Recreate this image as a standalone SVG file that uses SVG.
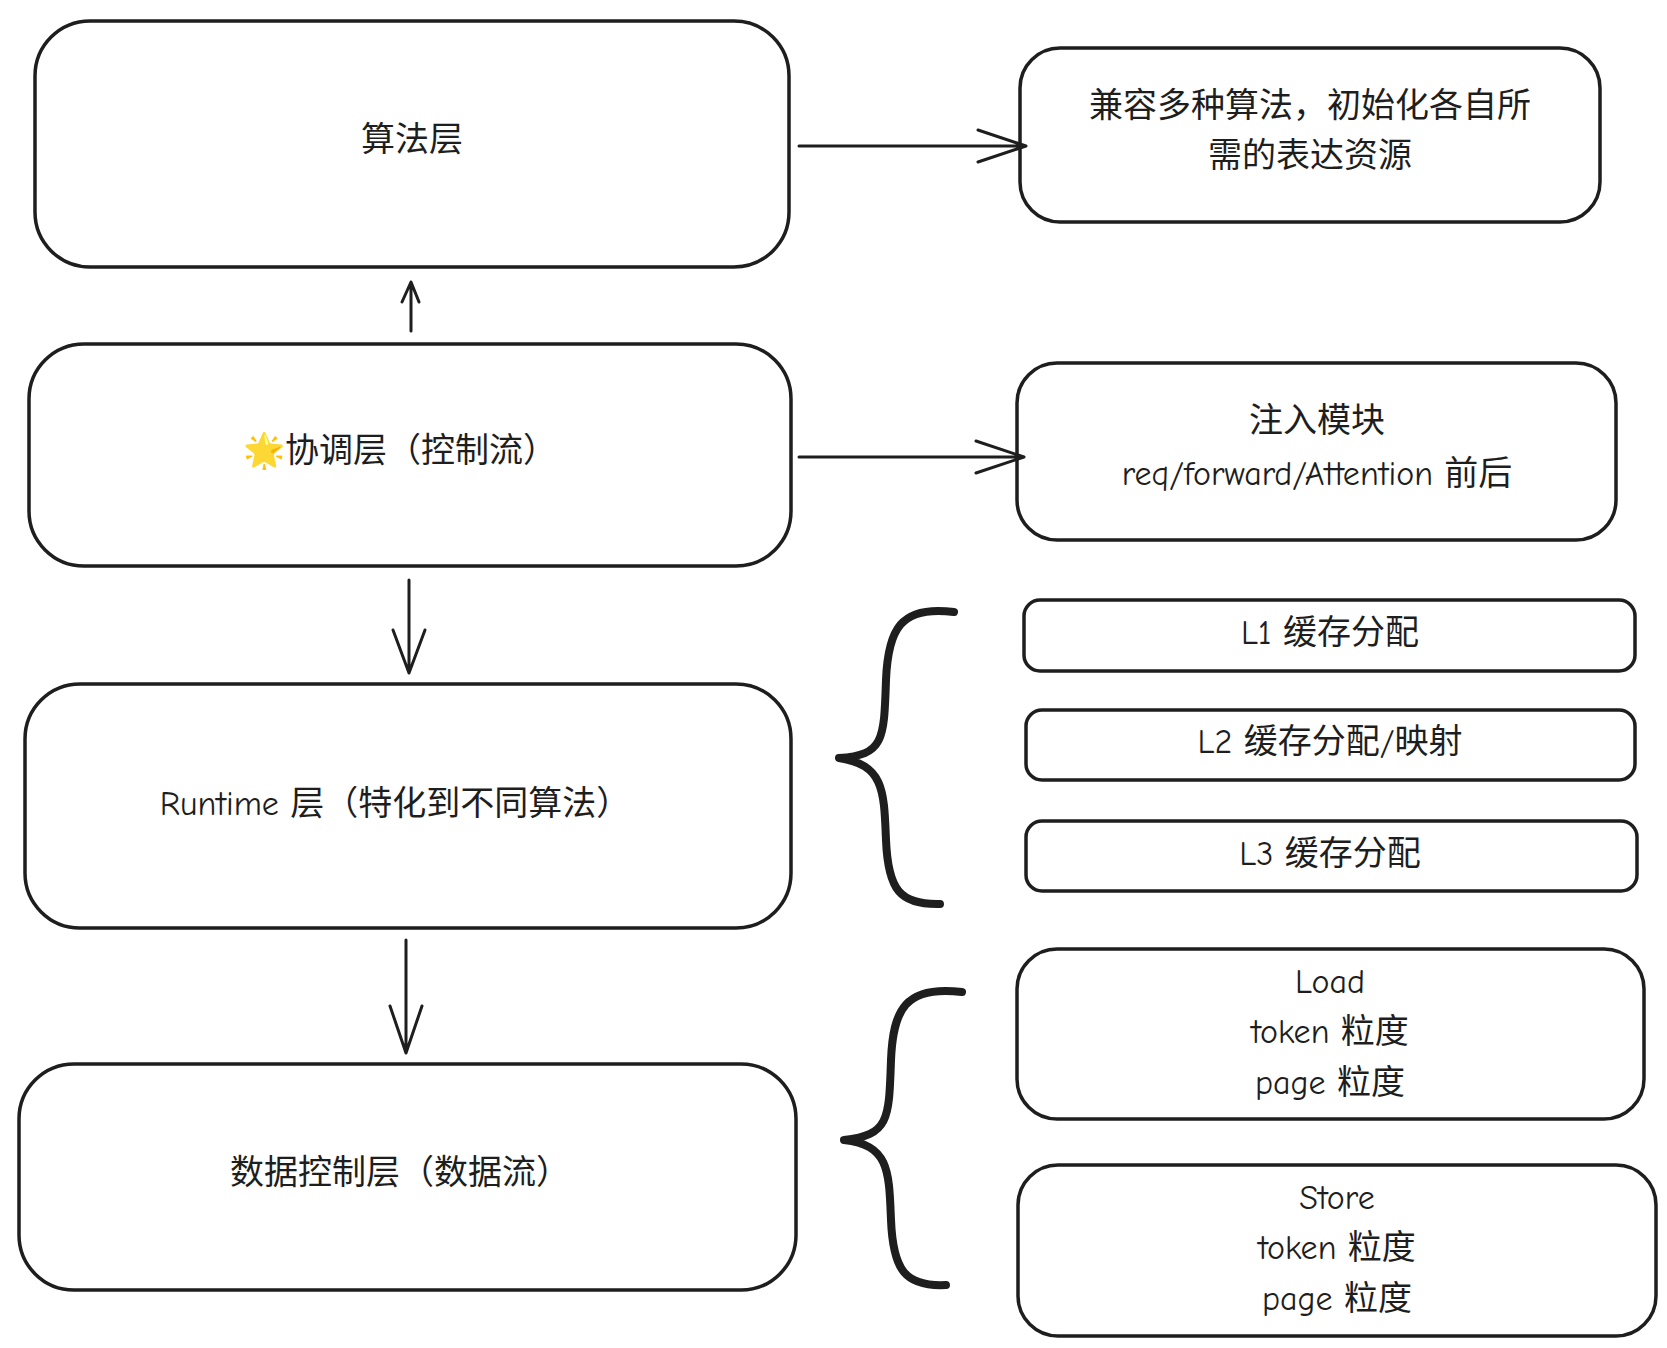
<svg xmlns="http://www.w3.org/2000/svg" width="1667" height="1348" viewBox="0 0 1667 1348">
<style>
.b{fill:#fff;stroke:#1e1e1e;stroke-width:3.5}
.c{fill:none;stroke:#1e1e1e;stroke-width:3;stroke-linecap:round;stroke-linejoin:round}
.br{fill:none;stroke:#1e1e1e;stroke-width:8;stroke-linecap:round;stroke-linejoin:round}
text{font-family:"Comic Neue","Noto Sans","Noto Sans CJK SC",sans-serif;font-size:34px;fill:#1e1e1e;text-anchor:middle;dominant-baseline:central}
</style>
<rect width="1667" height="1348" fill="#fff"/>
<g id="n1"><rect class="b" x="35" y="21" width="754" height="246" rx="55"/><text x="412" y="140">算法层</text></g>
<g id="n1r"><rect class="b" x="1020" y="48" width="580" height="174" rx="40"/><text x="1310" y="106">兼容多种算法，初始化各自所</text><text x="1310" y="156">需的表达资源</text></g>
<g id="n2"><rect class="b" x="29" y="344" width="762" height="222" rx="55"/><text x="400" y="451">🌟协调层（控制流）</text></g>
<g id="n2r"><rect class="b" x="1017" y="363" width="599" height="177" rx="40"/><text x="1317" y="421">注入模块</text><text x="1317" y="474">req/forward/Attention 前后</text></g>
<g id="n3"><rect class="b" x="25" y="684" width="766" height="244" rx="55"/><text x="395" y="804">Runtime 层（特化到不同算法）</text></g>
<g id="n4"><rect class="b" x="19" y="1064" width="777" height="226" rx="55"/><text x="400" y="1173">数据控制层（数据流）</text></g>
<g id="l1"><rect class="b" x="1024" y="600" width="611" height="71" rx="16"/><text x="1330" y="633">L1 缓存分配</text></g>
<g id="l2"><rect class="b" x="1026" y="710" width="609" height="70" rx="16"/><text x="1330" y="742">L2 缓存分配/映射</text></g>
<g id="l3"><rect class="b" x="1026" y="821" width="611" height="70" rx="16"/><text x="1330" y="854">L3 缓存分配</text></g>
<g id="load"><rect class="b" x="1017" y="949" width="627" height="170" rx="40"/><text x="1330" y="982">Load</text><text x="1330" y="1032">token 粒度</text><text x="1330" y="1083">page 粒度</text></g>
<g id="store"><rect class="b" x="1018" y="1165" width="638" height="171" rx="40"/><text x="1337" y="1198">Store</text><text x="1337" y="1248">token 粒度</text><text x="1337" y="1299">page 粒度</text></g>
<g id="connectors">
<path class="c" d="M799 146 L1026 146 M978 130 L1026 146 L978 162"/>
<path class="c" d="M799 457 L1024 457 M976 441 L1024 457 L976 473"/>
<path class="c" d="M411 331 L411 282 M402 302 L411 282 L419 302"/>
<path class="c" d="M409 580 L409 673 M393 630 L409 673 L425 630"/>
<path class="c" d="M406 940 L406 1053 M390 1006 L406 1053 L422 1006"/>
<path class="br" d="M954 612 C900 605 888 630 886 680 C884 740 884 755 839 758 C884 765 884 790 886 840 C888 890 900 905 940 904"/>
<path class="br" d="M962 992 C905 985 893 1010 891 1060 C889 1120 889 1135 844 1140 C889 1145 889 1170 891 1220 C893 1270 905 1287 946 1285"/>
</g>
</svg>
